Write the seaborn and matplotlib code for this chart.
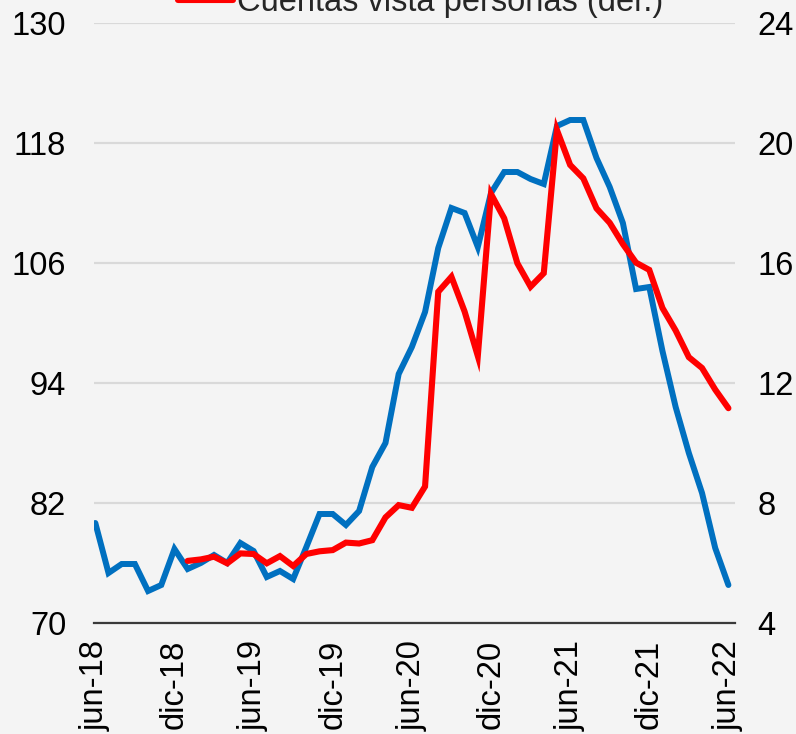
import matplotlib

matplotlib.use("Agg")
import matplotlib.pyplot as plt
import numpy as np
import pandas as pd
import seaborn as sns

# monthly series, jun-18 .. jun-22
months = pd.date_range("2018-06-01", "2022-06-01", freq="MS")
blue_values = [
    80.0, 75.0, 75.9, 75.9, 73.2, 73.8, 77.4, 75.4, 76.0, 76.8, 76.0, 78.0,
    77.2, 74.6, 75.2, 74.4, 77.6, 80.9, 80.9, 79.8, 81.2, 85.6, 88.0, 94.9,
    97.6, 101.1, 107.5, 111.5, 111.0, 107.6, 113.0, 115.1, 115.1, 114.4, 113.9, 119.7,
    120.3, 120.3, 116.5, 113.6, 110.0, 103.4, 103.6, 97.2, 91.6, 87.0, 83.0, 77.5,
    73.8,
]
# red series starts in ene-19
red_start = 7
red_values = [
    6.07, 6.12, 6.21, 5.99, 6.32, 6.30, 5.99, 6.23, 5.90, 6.30, 6.39, 6.43,
    6.68, 6.65, 6.76, 7.52, 7.93, 7.84, 8.55, 15.04, 15.54, 14.38, 12.9, 18.3,
    17.49, 15.99, 15.21, 15.66, 20.43, 19.27, 18.82, 17.82, 17.34, 16.63, 16.01, 15.77,
    14.5, 13.75, 12.86, 12.5, 11.78, 11.16,
]
red_label = "Cuentas vista personas (der.)"
tick_labels = ["jun-18", "dic-18", "jun-19", "dic-19", "jun-20", "dic-20", "jun-21", "dic-21", "jun-22"]
left_ticks = [70, 82, 94, 106, 118, 130]
right_ticks = [4, 8, 12, 16, 20, 24]

BLUE = "#0070C0"
RED = "#FF0000"
BG = "#F4F4F4"
FS = 23.5

df = pd.DataFrame({
    "idx": np.arange(len(months)),
    "blue": blue_values,
    "red": [np.nan] * red_start + red_values,
})

sns.set_theme(style="white")
plt.rcParams["font.family"] = ["Liberation Sans", "DejaVu Sans"]

fig = plt.figure(figsize=(7.96, 7.34), dpi=100, facecolor=BG)
ax = fig.add_axes([94 / 796, 1 - 623 / 734, (735 - 94) / 796, 600 / 734])
ax.set_facecolor(BG)
ax2 = ax.twinx()

sns.lineplot(data=df, x="idx", y="blue", ax=ax, color=BLUE, linewidth=4.3, legend=False)
sns.lineplot(data=df, x="idx", y="red", ax=ax2, color=RED, linewidth=4.4, legend=False)
for line in ax.lines + ax2.lines:
    line.set_solid_capstyle("round")
    line.set_solid_joinstyle("miter")

ax.set_xlim(-0.1, 48.5)
ax.set_ylim(70, 130)
ax2.set_ylim(4, 24)
ax.set_yticks(left_ticks)
ax2.set_yticks(right_ticks)
ax.set_xticks(np.arange(0, len(months), 6))
ax.set_xticklabels(tick_labels, rotation=90, va="top", ha="center")

ax.grid(axis="y", color="#D9D9D9", linewidth=1.6)
ax.set_axisbelow(True)
ax.set_xlabel("")
ax.set_ylabel("")
ax2.set_ylabel("")

for a in (ax, ax2):
    for side in ("top", "left", "right", "bottom"):
        a.spines[side].set_visible(False)
ax.spines["bottom"].set_visible(True)
ax.spines["bottom"].set_color("#3A3A3A")
ax.spines["bottom"].set_linewidth(1.6)

ax.tick_params(axis="y", length=0, pad=20, labelsize=FS, colors="black")
ax.tick_params(axis="x", length=0, pad=12, labelsize=FS, colors="black")
ax2.tick_params(axis="y", length=0, pad=16, labelsize=FS, colors="black")

# legend sits at the very top edge, partly cropped as in the source
fig.legend(
    handles=[ax2.lines[0]],
    labels=[red_label],
    loc="center left",
    bbox_to_anchor=(178 / 796, 1 - 3 / 734),
    frameon=False,
    fontsize=FS,
    borderpad=0,
    borderaxespad=0,
    handlelength=1.7,
    handletextpad=0.12,
)

fig.savefig("out.png", dpi=100, facecolor=BG)
